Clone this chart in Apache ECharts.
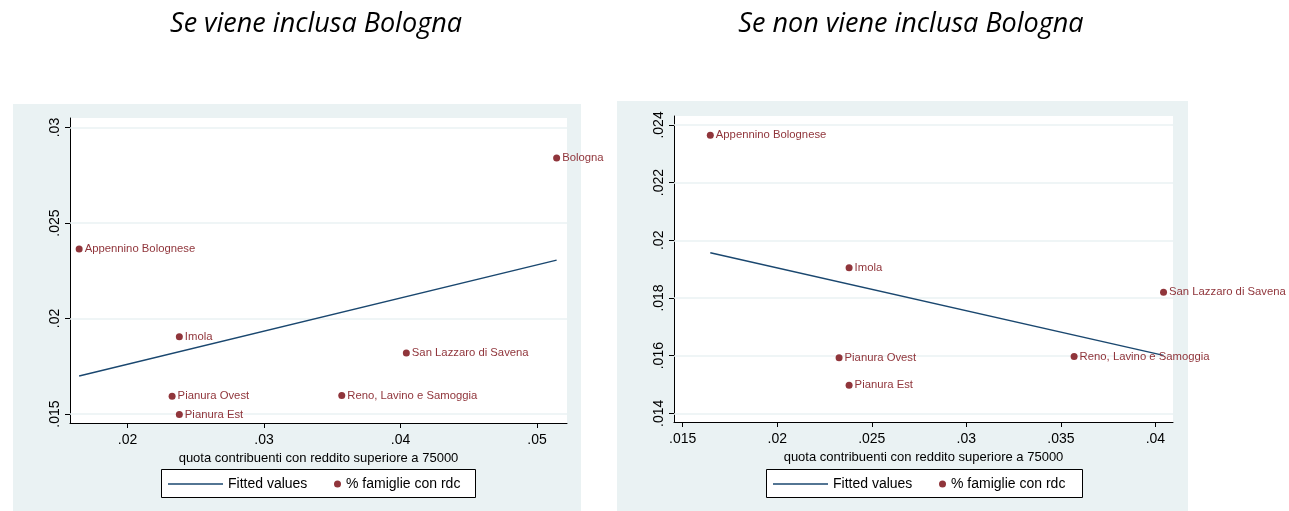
<!DOCTYPE html>
<html>
<head>
<meta charset="utf-8">
<script src="https://cdn.jsdelivr.net/npm/echarts@6/dist/echarts.min.js"></script>
<style>
html,body{margin:0;padding:0;background:#fff;}
#chart{width:1289px;height:511px;}
</style>
</head>
<body>
<div id="chart"></div>
<script>
// ---- data ----
const regions = ['Appennino Bolognese', 'Imola', 'Pianura Ovest', 'Pianura Est', 'San Lazzaro di Savena', 'Reno, Lavino e Samoggia', 'Bologna'];
const quotaReddito = [0.01646, 0.0238, 0.02327, 0.0238, 0.04043, 0.0357, 0.05144];
const famiglieRdc = [0.02364, 0.01905, 0.01593, 0.01497, 0.0182, 0.01597, 0.02841];
const fitAllX = [0.01646, 0.05144];
const fitAllY = [0.01699, 0.02306];
const fitNoBoX = [0.01646, 0.04043];
const fitNoBoY = [0.01957, 0.01601];
const leftXTicks = [0.02, 0.03, 0.04, 0.05];
const leftYTicks = [0.015, 0.02, 0.025, 0.03];
const rightXTicks = [0.015, 0.02, 0.025, 0.03, 0.035, 0.04];
const rightYTicks = [0.014, 0.016, 0.018, 0.02, 0.022, 0.024];
const titles = ['Se viene inclusa Bologna', 'Se non viene inclusa Bologna'];
const xTitle = 'quota contribuenti con reddito superiore a 75000';
const legendNames = ['Fitted values', '% famiglie con rdc'];

// ---- style ----
const PANEL = '#eaf2f3';
const NAVY = '#1a476f';
const MAROON = '#90353b';
const FONT = 'Liberation Sans, Arial, sans-serif';

const fmt = v => String(parseFloat(Number(v).toFixed(4))).replace(/^0\./, '.');

const LX = [0.01579, 0.0522], LY = [0.01453, 0.0305];
const RX = [0.01454, 0.04093], RY = [0.0137, 0.02431];

function pts(n) {
  const out = [];
  for (let i = 0; i < n; i++) out.push({ name: regions[i], value: [quotaReddito[i], famiglieRdc[i]] });
  return out;
}
function xAxis(idx, ext, ticks) {
  return {
    type: 'value', gridIndex: idx, min: ext[0], max: ext[1],
    axisLine: { show: true, lineStyle: { color: '#000', width: 1 } },
    axisTick: { show: true, length: 5, lineStyle: { color: '#000' }, customValues: ticks },
    axisLabel: { customValues: ticks, formatter: fmt, color: '#000', fontFamily: FONT, fontSize: 14, margin: 10 },
    splitLine: { show: false },
    name: xTitle, nameLocation: 'middle', nameGap: 28,
    nameTextStyle: { color: '#000', fontFamily: FONT, fontSize: 13 }
  };
}
function yAxis(idx, ext, ticks) {
  return {
    type: 'value', gridIndex: idx, min: ext[0], max: ext[1],
    axisLine: { show: true, lineStyle: { color: '#000', width: 1 } },
    axisTick: { show: true, length: 5, lineStyle: { color: '#000' }, customValues: ticks },
    axisLabel: { customValues: ticks, formatter: fmt, color: '#000', fontFamily: FONT, fontSize: 14, rotate: 90, margin: 8 },
    splitLine: { show: false }
  };
}
function gridLines(idx, xext, ticks) {
  return {
    type: 'lines', name: 'grid' + idx, coordinateSystem: 'cartesian2d', xAxisIndex: idx, yAxisIndex: idx,
    z: 1, silent: true, animation: false,
    lineStyle: { color: PANEL, width: 1.5, opacity: 1 },
    data: ticks.map(t => ({ coords: [[xext[0], t], [xext[1], t]] }))
  };
}
function fitSeries(idx, xs, ys) {
  return {
    type: 'line', name: legendNames[0], xAxisIndex: idx, yAxisIndex: idx, z: 2,
    symbol: 'none', lineStyle: { color: NAVY, width: 1.4 }, itemStyle: { color: NAVY },
    data: xs.map((x, i) => [x, ys[i]]), animation: false
  };
}
function scatterSeries(idx, n) {
  return {
    type: 'scatter', name: legendNames[1], xAxisIndex: idx, yAxisIndex: idx, z: 3,
    symbol: 'circle', symbolSize: 7, itemStyle: { color: MAROON, opacity: 1 },
    label: { show: true, position: 'right', distance: 2, formatter: p => p.name, color: MAROON, fontFamily: FONT, fontSize: 11.3 },
    data: pts(n), animation: false
  };
}
function legends(offset) {
  const common = { orient: 'horizontal', padding: 0, itemGap: 0, selectedMode: false,
    textStyle: { color: '#000', fontFamily: FONT, fontSize: 14 }, top: 477 };
  return [
    Object.assign({}, common, { left: 168 + offset, itemWidth: 55, itemHeight: 1.4,
      data: [{ name: legendNames[0], icon: 'rect', itemStyle: { color: NAVY } }] }),
    Object.assign({}, common, { left: 334 + offset, itemWidth: 7, itemHeight: 7,
      data: [{ name: legendNames[1], icon: 'circle', itemStyle: { color: MAROON, opacity: 1 } }] })
  ];
}

const TITLE_STYLE = { fontFamily: 'Open Sans', fontStyle: 'italic', fontWeight: 'normal', fontSize: 27, color: '#000' };

const chart = echarts.init(document.getElementById('chart'), null, { renderer: 'canvas' });
chart.setOption({
  animation: false,
  backgroundColor: '#fff',
  title: [
    { text: titles[0], left: 316, top: 11, textAlign: 'center', padding: 0, textStyle: TITLE_STYLE },
    { text: titles[1], left: 911, top: 11, textAlign: 'center', padding: 0, textStyle: TITLE_STYLE }
  ],
  graphic: [
    { type: 'rect', z: -10, shape: { x: 13, y: 104, width: 568, height: 407 }, style: { fill: PANEL } },
    { type: 'rect', z: -10, shape: { x: 617, y: 101, width: 571, height: 410 }, style: { fill: PANEL } },
    { type: 'rect', z: 1, shape: { x: 161.5, y: 469.5, width: 314, height: 28 }, style: { fill: '#fff', stroke: '#000', lineWidth: 1 } },
    { type: 'rect', z: 1, shape: { x: 766.5, y: 469.5, width: 316, height: 28 }, style: { fill: '#fff', stroke: '#000', lineWidth: 1 } }
  ],
  legend: legends(0).concat(legends(605)),
  grid: [
    { left: 70, top: 118, width: 497, height: 305, show: true, backgroundColor: '#fff', borderWidth: 0 },
    { left: 674, top: 116, width: 499, height: 306, show: true, backgroundColor: '#fff', borderWidth: 0 }
  ],
  xAxis: [xAxis(0, LX, leftXTicks), xAxis(1, RX, rightXTicks)],
  yAxis: [yAxis(0, LY, leftYTicks), yAxis(1, RY, rightYTicks)],
  series: [
    gridLines(0, LX, leftYTicks), fitSeries(0, fitAllX, fitAllY), scatterSeries(0, 7),
    gridLines(1, RX, rightYTicks), fitSeries(1, fitNoBoX, fitNoBoY), scatterSeries(1, 6)
  ]
});
</script>
</body>
</html>
